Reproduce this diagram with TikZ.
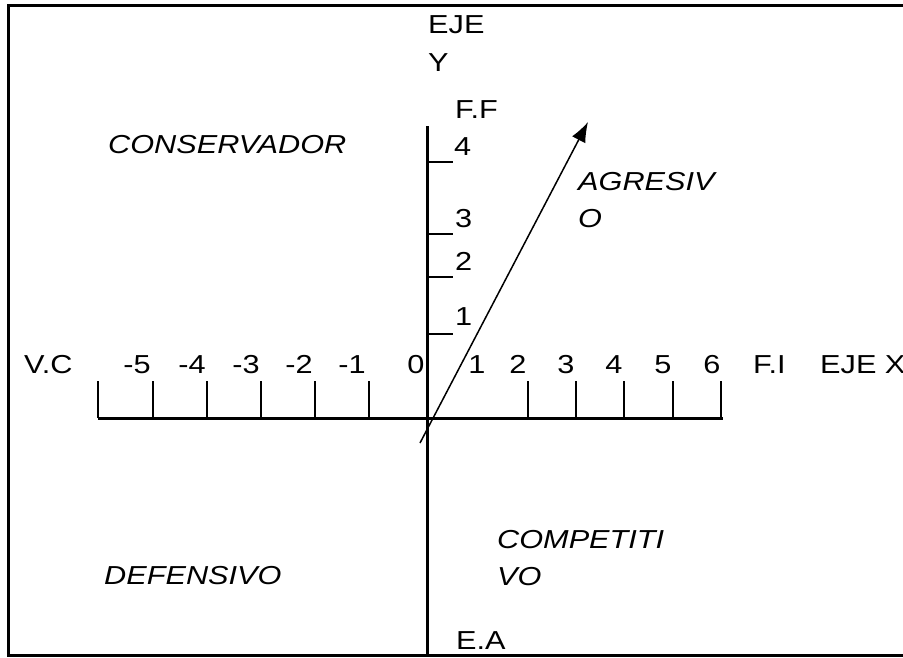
\documentclass[tikz,border=0pt]{standalone}
\usepackage{fontspec}
\setmainfont{Liberation Sans}[FakeStretch=1.18]
\usetikzlibrary{arrows.meta}
\begin{document}
\begin{tikzpicture}[x=1pt,y=-1pt,
  lbl/.style={font=\fontsize{26}{28}\selectfont, inner sep=0pt, anchor=base west},
  num/.style={font=\fontsize{26}{28}\selectfont, inner sep=0pt, anchor=base},
  quad/.style={font=\fontsize{26}{37}\selectfont\itshape, inner sep=0pt, anchor=base west, align=left},
  axis/.style={line width=3pt},
  tick/.style={line width=2.2pt},
  frame/.style={line width=3pt}]
\useasboundingbox (0,0) rectangle (903,657);
% frame
\draw[frame] (903,5) -- (8,5) -- (8,655) -- (903,655);
% axes
\coordinate (xl) at (98,418);
\coordinate (xr) at (723,418);
\coordinate (yt) at (427,126);
\coordinate (yb) at (427,657);
\draw[axis] (xl) -- (xr);
\draw[axis] (yt) -- (yb);
% x ticks
\foreach \x in {98,153,207,261,315,369,528,576,624,673,721}
  \draw[tick] (\x,418) -- (\x,381);
% y ticks
\foreach \y in {162,234,277,334}
  \draw[tick] (427,\y) -- (453,\y);
% x labels
\node[lbl] (vc) at (24,373) {V.C};
\node[num] (m5) at (137,373) {-5};
\node[num] (m4) at (192,373) {-4};
\node[num] (m3) at (246,373) {-3};
\node[num] (m2) at (299,373) {-2};
\node[num] (m1) at (352,373) {-1};
\node[num] (z0) at (416,373) {0};
\node[num] (p1) at (477,373) {1};
\node[num] (p2) at (518,373) {2};
\node[num] (p3) at (566,373) {3};
\node[num] (p4) at (614,373) {4};
\node[num] (p5) at (663,373) {5};
\node[num] (p6) at (712,373) {6};
\node[lbl] (fi) at (753,373) {F.I};
\node[lbl] (ejex) at (820,373) {EJE X};
% y labels
\node[lbl] (eje) at (428,33) {EJE};
\node[lbl] (ey) at (428,71) {Y};
\node[lbl] (ff) at (455,118) {F.F};
\node[lbl] (y4) at (454,155) {4};
\node[lbl] (y3) at (455,227) {3};
\node[lbl] (y2) at (455,270) {2};
\node[lbl] (y1) at (455,325) {1};
\node[lbl] (ea) at (456,649) {E.A};
% quadrant labels
\node[quad] (cons) at (108,153) {CONSERVADOR};
\node[quad] (agr) at (578,227) {AGRESIV\\O};
\node[quad] (comp) at (497,585) {COMPETITI\\VO};
\node[quad] (def) at (104,584) {DEFENSIVO};
% arrow
\coordinate (as) at (420,443);
\coordinate (ae) at (588,122);
\draw[line width=1.5pt, -{Latex[length=20pt,width=15pt]}] (as) -- (ae);
\end{tikzpicture}
\end{document}
